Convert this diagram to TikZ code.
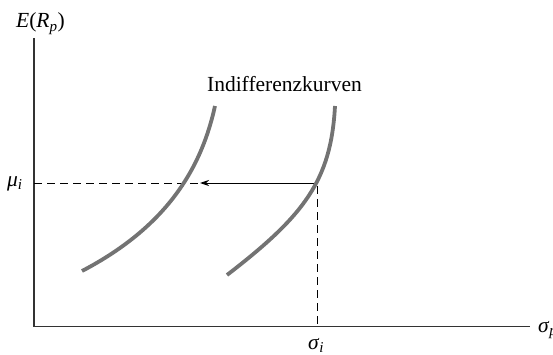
\documentclass[tikz,border=0pt]{standalone}
\usepackage{fontspec}
\setmainfont{Liberation Serif}
\usetikzlibrary{arrows.meta}
\begin{document}
\begin{tikzpicture}[x=1pt,y=-1pt,
  axis/.style={draw=black!80,line width=1.3pt},
  curve/.style={draw=black!55,line width=3.8pt},
  guide/.style={draw=black,line width=0.9pt,dash pattern=on 8pt off 5pt},
  lbl/.style={font=\fontsize{21.5}{24}\selectfont,inner sep=0pt}]
\useasboundingbox (0,0) rectangle (553,355);
\coordinate (o) at (34,326.5);
\coordinate (ytop) at (34,38);
\coordinate (xend) at (530,326.5);
\coordinate (mu) at (34,183);
\coordinate (p) at (317,183);
\coordinate (q) at (317,326.5);
\coordinate (tip) at (200,183);
\draw[axis] (ytop) -- (o) -- (xend);
\draw[guide] (mu) -- (p) -- (q);
\draw[line width=0.9pt,-{Stealth[length=9pt,width=6pt]}] (p) -- (tip);
\coordinate (a0) at (82,271);
\coordinate (a1) at (215,106);
\coordinate (b0) at (227,275);
\coordinate (b1) at (335,106);
\draw[curve] (a0) .. controls (170,225) and (202,165) .. (a1);
\draw[curve] (b0) .. controls (305,215) and (331,180) .. (b1);
\node[lbl,anchor=base] (ind) at (284.5,92) {Indifferenzkurven};
\node[lbl,anchor=base west] (ey) at (16,28) {\textit{E}(\textit{R}\textsubscript{\textit{p}})};
\node[lbl,anchor=base west] (mul) at (7,186) {\textit{μ}\textsubscript{\textit{i}}};
\node[lbl,anchor=base west] (sil) at (308,349) {\textit{σ}\textsubscript{\textit{i}}};
\node[lbl,anchor=base west] (sx) at (538,332) {\textit{σ}\textsubscript{\textit{p}}};
\end{tikzpicture}
\end{document}
